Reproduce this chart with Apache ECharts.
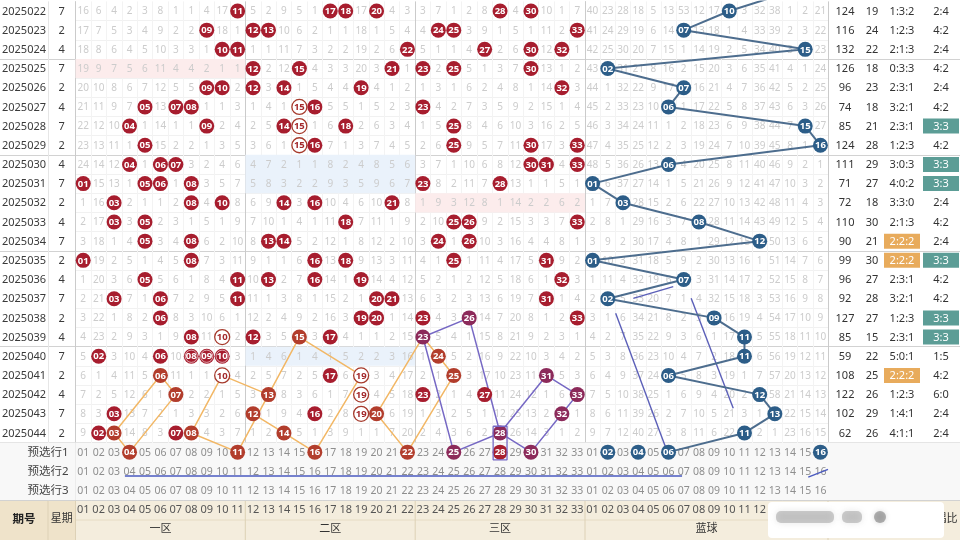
<!DOCTYPE html>
<html>
<head>
<meta charset="utf-8">
<script src="https://cdn.jsdelivr.net/npm/echarts@6.0.0/dist/echarts.min.js"></script>
<style>
html,body{margin:0;padding:0;background:#fff;}
#chart{width:960px;height:540px;}
</style>
</head>
<body>
<div id="chart"></div>
<script>
// ================= DATA =================
const periods = ['2025022','2025023','2025024','2025025','2025026','2025027','2025028','2025029','2025030','2025031','2025032','2025033','2025034','2025035','2025036','2025037','2025038','2025039','2025040','2025041','2025042','2025043','2025044'];
const weekdays = [7,2,4,7,2,4,7,2,4,7,2,4,7,2,4,7,2,4,7,2,4,7,2];
const redDraws = [
  [11,17,18,20,28,30],[9,12,13,24,25,33],[10,11,22,27,30,32],[12,15,21,23,25,30],[9,10,12,14,19,32],
  [5,7,8,15,16,23],[4,9,14,15,18,25],[5,15,16,25,30,33],[4,6,7,30,31,33],[1,5,6,8,23,28],
  [3,8,10,14,16,21],[3,5,18,25,26,33],[5,8,13,14,24,26],[1,8,16,18,25,31],[5,11,13,16,19,32],
  [3,6,11,20,21,31],[6,19,20,23,26,33],[8,10,12,15,17,23],[2,6,8,9,10,24],[6,10,17,19,25,31],
  [7,13,19,23,27,33],[3,12,16,19,20,32],[2,3,7,8,14,28]
];
const blueDraws = [10,7,15,2,7,6,15,16,6,1,3,8,12,1,7,2,9,11,11,6,12,13,11];
const blueDrawBefore = 14; // 2025021, just above the top edge
const sums = [124,116,132,126,96,74,85,124,111,71,72,110,90,99,96,92,127,85,59,108,122,102,62];
const spans = [19,24,22,18,23,18,21,28,29,27,18,30,21,30,27,28,27,15,22,25,26,29,26];
const zoneRatios = ['1:3:2','1:2:3','2:1:3','0:3:3','2:3:1','3:2:1','2:3:1','1:2:3','3:0:3','4:0:2','3:3:0','2:1:3','2:2:2','2:2:2','2:3:1','3:2:1','1:2:3','2:3:1','5:0:1','2:2:2','1:2:3','1:4:1','4:1:1'];
const oddEven = ['2:4','4:2','2:4','4:2','2:4','4:2','3:3','4:2','3:3','3:3','2:4','4:2','2:4','3:3','4:2','4:2','3:3','3:3','1:5','4:2','6:0','2:4','2:4'];

// omission values per red column 01..33 (0 = drawn in that period)
const redMiss = [
  [16,17,18,19,20,21,22,23,24,0,1,2,3,0,1,2,3,4,5,6,7,8,9],
  [6,7,8,9,10,11,12,13,14,15,16,17,18,19,20,21,22,23,0,1,2,3,0],
  [4,5,6,7,8,9,10,11,12,13,0,0,1,2,3,0,1,2,3,4,5,0,0],
  [2,3,4,5,6,7,0,1,0,1,2,3,4,5,6,7,8,9,10,11,12,13,14],
  [3,4,5,6,7,0,1,0,1,0,1,0,0,1,0,1,2,3,4,5,6,7,8],
  [8,9,10,11,12,13,14,15,0,0,1,2,3,4,5,0,0,1,0,0,1,2,3],
  [1,2,3,4,5,0,1,2,0,1,2,3,4,5,6,7,8,9,10,11,0,1,0],
  [1,2,3,4,5,0,1,2,3,0,0,1,0,0,1,2,3,0,0,1,2,3,0],
  [4,0,1,2,0,1,0,1,2,3,4,5,6,7,8,9,10,11,0,1,2,3,4],
  [17,18,0,1,0,1,2,3,4,5,0,1,2,3,4,5,6,0,0,0,1,2,3],
  [0,1,0,1,2,3,4,5,6,7,8,9,10,11,0,0,1,2,3,4,5,6,7],
  [5,0,1,0,0,1,2,3,4,5,6,7,8,9,10,11,12,0,1,2,3,0,1],
  [2,0,1,2,3,4,5,6,7,8,9,10,0,1,0,1,2,3,4,5,0,1,2],
  [9,10,11,12,0,1,0,1,2,3,0,1,0,1,2,3,4,5,6,7,8,9,0],
  [5,6,7,0,1,0,0,0,1,2,3,4,5,6,7,8,9,0,1,2,3,4,5],
  [1,2,3,4,5,0,1,0,1,2,0,1,2,0,0,1,2,3,4,5,6,0,1],
  [0,1,2,3,4,5,6,7,8,9,10,11,12,13,14,15,16,0,1,0,1,2,3],
  [0,1,2,3,4,5,0,1,2,3,4,0,1,0,1,2,3,4,5,6,7,8,9],
  [17,18,19,20,0,1,2,3,4,5,6,7,8,9,0,1,0,1,2,0,0,0,1],
  [0,1,2,3,4,5,6,7,8,9,10,11,12,13,14,0,0,1,2,3,4,0,1],
  [4,5,6,0,1,2,3,4,5,6,0,1,2,3,4,0,1,2,3,4,5,6,7],
  [3,4,0,1,2,3,4,5,6,7,8,9,10,11,12,13,14,15,16,17,18,19,20],
  [3,4,5,0,1,0,1,2,3,0,1,2,3,4,5,6,0,0,1,2,0,1,2],
  [7,0,1,2,3,4,5,6,7,8,9,10,0,1,2,3,4,5,0,1,2,3,4],
  [1,0,1,0,1,2,0,0,1,2,3,0,1,0,1,2,3,4,5,0,1,2,3],
  [2,3,4,5,6,7,8,9,10,11,12,0,0,1,2,3,0,1,2,3,4,5,6],
  [8,9,0,1,2,3,4,5,6,7,8,9,10,11,12,13,14,15,16,17,0,1,2],
  [0,1,2,3,4,5,6,7,8,0,1,2,3,4,5,6,7,8,9,10,11,12,0],
  [4,5,6,7,8,9,10,11,12,13,14,15,16,17,18,19,20,21,22,23,24,25,26],
  [0,1,0,0,1,2,3,0,0,1,2,3,4,5,6,7,8,9,10,11,12,13,14],
  [10,11,12,13,14,15,16,17,0,1,2,3,4,0,1,0,1,2,3,0,1,2,3],
  [1,2,0,1,0,1,2,3,4,5,6,7,8,9,0,1,2,3,4,5,6,0,1],
  [7,0,1,2,3,4,5,0,0,1,2,0,1,2,3,4,0,1,2,3,0,1,2]
];
// omission values per blue column 01..16
const blueMiss = [
  [40,41,42,43,44,45,46,47,48,0,1,2,3,0,1,2,3,4,5,6,7,8,9],
  [23,24,25,0,1,2,3,4,5,6,7,8,9,10,11,0,1,2,3,4,5,6,7],
  [28,29,30,31,32,33,34,35,36,37,0,1,2,3,4,5,6,7,8,9,10,11,12],
  [18,19,20,21,22,23,24,25,26,27,28,29,30,31,32,33,34,35,36,37,38,39,40],
  [5,6,7,8,9,10,11,12,13,14,15,16,17,18,19,20,21,22,23,24,25,26,27],
  [13,14,15,16,17,0,1,2,0,1,2,3,4,5,6,7,8,9,10,0,1,2,3],
  [53,0,1,2,0,1,2,3,4,5,6,7,8,9,0,1,2,3,4,5,6,7,8],
  [12,13,14,15,16,17,18,19,20,21,22,0,1,2,3,4,5,6,7,8,9,10,11],
  [17,18,19,20,21,22,23,24,25,26,27,28,29,30,31,32,0,1,2,3,4,5,6],
  [0,1,2,3,4,5,6,7,8,9,10,11,12,13,14,15,16,17,18,19,20,21,22],
  [3,4,5,6,7,8,9,10,11,12,13,14,15,16,17,18,19,0,0,1,2,3,0],
  [32,33,34,35,36,37,38,39,40,41,42,43,0,1,2,3,4,5,6,7,0,1,2],
  [38,39,40,41,42,43,44,45,46,47,48,49,50,51,52,53,54,55,56,57,58,0,1],
  [1,2,3,4,5,6,7,8,9,10,11,12,13,14,15,16,17,18,19,20,21,22,23],
  [2,3,0,1,2,3,0,1,2,3,4,5,6,7,8,9,10,11,12,13,14,15,16],
  [21,22,23,24,25,26,27,0,1,2,3,4,5,6,7,8,9,10,11,12,13,14,15]
];
const redHeader = ['01','02','03','04','05','06','07','08','09','10','11','12','13','14','15','16','17','18','19','20','21','22','23','24','25','26','27','28','29','30','31','32','33'];
const blueHeader = ['01','02','03','04','05','06','07','08','09','10','11','12','13','14','15','16'];
const redZones = ['一区','二区','三区'];
const preRows = ['预选行1','预选行2','预选行3'];
const preRedPicks = [4,11,16,22,25,28,30];
const preBluePicks = [2,4,6,16];
const blueTrendEnd = 6;
// [periodIndex, zoneIndex] of zones with no red number (shaded)
const emptyZones = [[3,0],[8,1],[9,1],[10,2],[18,1]];
// special ball marks [periodIndex, number]
const hollowBalls = [[5,15],[6,15],[7,15],[17,10],[19,10],[19,19],[20,19],[21,19]];
const ringBalls = [[18,8],[18,9],[18,10]];
// hand-drawn connectors [number, rowIndex] (rows 23.. = 预选行)
const orangePaths = [
  [[6,19],[7,20],[4,23]],
  [[6,19],[3,22],[4,23]],
  [[10,19],[8,22],[11,23]],
  [[10,19],[13,20],[11,23]],
  [[13,20],[15,17],[19,19],[16,23]],
  [[12,21],[14,22],[16,23]],
  [[22,23],[20,21],[23,17],[24,18],[25,19],[22,23]]
];
const purplePaths = [
  [[26,16],[23,17],[25,23],[28,22],[31,19],[33,20],[32,21],[30,23],[28,22]],
  [[26,16],[28,22]]
];
// free strokes in axis units (column, row)
const purpleBox = [[27.05,22.15],[27.95,22.15],[27.95,23.9],[27.05,23.9],[27.05,22.15]];
const blueStrokes = [
  [[2.02,16.26],[5.33,23.3]],
  [[6.99,15.48],[9.76,21.21]],
  [[3.18,15.48],[5.81,14.87]]
];
const pre2StrokeRed = [[3.2,24.74],[33,24.74]];
const pre2StrokeBlue = [[0,24.74],[6.39,24.74]];
const pre2StrokeBlue2 = [[14.7,24.8],[16,24.4]];

// ================= LAYOUT / STYLE =================
const FONT = '"Noto Sans","Noto Sans CJK SC",Roboto,sans-serif';
const ROWS = 26, TOP = 1.4, GH = 498.7;
const PRE0 = periods.length;
const RED = '#a71d2e', ORANGE_BALL = '#b23d2c', PURPLE_BALL = '#8c2a5a', BLUE = '#2c5d88';
const pad = n => (n < 10 ? '0' : '') + n;

const groupLines = [3, 8, 13, 18, 23, 26];
const yFull = Array.from({length: ROWS + 1}, (_, k) => k === 0 ? 'rgba(0,0,0,0)' : groupLines.includes(k) ? '#d2d2d2' : '#f1f1f1');
const ySparse = Array.from({length: ROWS + 1}, (_, k) => groupLines.includes(k) ? '#d2d2d2' : (k > 23 ? '#f1f1f1' : 'rgba(0,0,0,0)'));
function xCols(n, darkIdx, dark, light) {
  return Array.from({length: n + 1}, (_, k) => darkIdx.includes(k) ? dark : light);
}
const T = 'rgba(0,0,0,0)';
const gridsDef = [
  {key: 'period', left: 0, width: 48, n: 1, xc: [T, '#e6e6e6'], yc: ySparse},
  {key: 'week', left: 48, width: 27.5, n: 1, xc: [T, '#d0d0d0'], yc: ySparse},
  {key: 'red', left: 75.5, width: 509.5, n: 33, xc: xCols(33, [0, 11, 22, 33], '#cbcbcb', '#f3f3f3'), yc: yFull},
  {key: 'blue', left: 585, width: 243, n: 16, xc: xCols(16, [0, 16], '#cbcbcb', '#f3f3f3'), yc: yFull},
  {key: 'sum', left: 828, width: 34, n: 1, xc: [T, T], yc: ySparse},
  {key: 'span', left: 862, width: 20, n: 1, xc: [T, T], yc: ySparse},
  {key: 'ratio', left: 882, width: 40, n: 1, xc: [T, T], yc: ySparse},
  {key: 'oe', left: 922, width: 38, n: 1, xc: [T, T], yc: ySparse}
];
const G = {};
const grids = [], xAxes = [], yAxes = [];
gridsDef.forEach((gd, i) => {
  G[gd.key] = i;
  grids.push({left: gd.left, top: TOP, width: gd.width, height: GH, show: false, outerBoundsMode: 'none', containLabel: false});
  xAxes.push({type: 'value', gridIndex: i, min: 0, max: gd.n, interval: 1, position: 'top',
    axisLine: {show: false}, axisTick: {show: false}, axisLabel: {show: false},
    splitLine: {show: true, showMinLine: true, showMaxLine: true, lineStyle: {color: gd.xc, width: 1}}});
  yAxes.push({type: 'value', gridIndex: i, min: 0, max: ROWS, interval: 1, inverse: true,
    axisLine: {show: false}, axisTick: {show: false}, axisLabel: {show: false},
    splitLine: {show: true, showMinLine: true, showMaxLine: true, lineStyle: {color: gd.yc, width: 1}}});
});
function headerAxis(key, labels, offset, style) {
  xAxes.push({type: 'category', gridIndex: G[key], position: 'bottom', offset: offset, data: labels, boundaryGap: true,
    axisLine: {show: false}, axisTick: {show: false}, splitLine: {show: false},
    axisLabel: Object.assign({show: true, interval: 0, margin: 4, color: '#555', fontSize: 11, fontFamily: FONT, hideOverlap: false}, style || {})});
}
headerAxis('period', ['期号'], 9.5, {color: '#222', fontWeight: 'bold', fontSize: 11.5});
headerAxis('week', ['星期'], 9.5, {color: '#333'});
headerAxis('red', redHeader, 0, {color: '#555'});
headerAxis('red', redZones, 19.5, {color: '#333'});
headerAxis('blue', blueHeader, 0, {color: '#555'});
headerAxis('blue', ['蓝球'], 19.5, {color: '#333'});
headerAxis('sum', ['和值'], 9.5, {color: '#333'});
headerAxis('span', ['跨度'], 9.5, {color: '#333'});
headerAxis('ratio', ['区间比'], 9.5, {color: '#333'});
headerAxis('oe', ['奇偶比'], 9.5, {color: '#333'});

// ================= SERIES HELPERS =================
function textLayer(key, items, style, z) {
  const g = G[key];
  return {type: 'custom', xAxisIndex: g, yAxisIndex: g, silent: true, z: z || 3, animation: false,
    encode: {x: 0, y: 1}, dimensions: ['x', 'y'], data: items.map(it => [it.x, it.y]),
    renderItem(params, api) {
      const it = items[params.dataIndex];
      const p = api.coord([api.value(0), api.value(1)]);
      return {type: 'text', x: p[0], y: p[1] + 0.5,
        style: Object.assign({text: String(it.t), align: 'center', verticalAlign: 'middle'}, style, it.s || {})};
    }};
}
function ballLayer(key, items, z) {
  const g = G[key];
  return {type: 'custom', xAxisIndex: g, yAxisIndex: g, silent: true, z: z || 6, animation: false,
    encode: {x: 0, y: 1}, dimensions: ['x', 'y'], data: items.map(b => [b.x, b.y]),
    renderItem(params, api) {
      const b = items[params.dataIndex];
      const p = api.coord([api.value(0), api.value(1)]);
      const ch = [{type: 'circle', shape: {cx: p[0], cy: p[1], r: 7.5},
        style: {fill: b.fill, stroke: b.stroke || null, lineWidth: b.lw || 0}}];
      if (b.ring) ch.push({type: 'circle', shape: {cx: p[0], cy: p[1], r: 6.1}, style: {fill: null, stroke: 'rgba(255,255,255,0.75)', lineWidth: 0.8}});
      ch.push({type: 'text', x: p[0], y: p[1] + 0.5, style: {text: b.t, fill: b.color || '#fff',
        font: 'bold 9.5px ' + FONT, align: 'center', verticalAlign: 'middle'}});
      return {type: 'group', children: ch};
    }};
}
function rectLayer(key, items, z) {
  const g = G[key];
  return {type: 'custom', xAxisIndex: g, yAxisIndex: g, silent: true, z: z || 1, animation: false,
    encode: {x: 0, y: 1}, dimensions: ['x', 'y', 'x2', 'y2'], data: items.map(r => [r.x1, r.y1, r.x2, r.y2]),
    renderItem(params, api) {
      const r = items[params.dataIndex];
      const p0 = api.coord([api.value(0), api.value(1)]);
      const p1 = api.coord([api.value(2), api.value(3)]);
      return {type: 'rect', shape: {x: p0[0], y: p0[1], width: p1[0] - p0[0], height: p1[1] - p0[1]}, style: {fill: r.fill}};
    }};
}
function boxLayer(key, items, z) {
  const g = G[key];
  return {type: 'custom', xAxisIndex: g, yAxisIndex: g, silent: true, z: z || 2, animation: false,
    encode: {x: 0, y: 1}, dimensions: ['x', 'y'], data: items.map(b => [b.x, b.y]),
    renderItem(params, api) {
      const b = items[params.dataIndex];
      const p = api.coord([api.value(0), api.value(1)]);
      return {type: 'rect', shape: {x: p[0] - 18, y: p[1] - 7.5, width: 36, height: 15}, style: {fill: b.fill}};
    }};
}
function lineLayer(key, pts, color, width, z) {
  const g = G[key];
  return {type: 'line', xAxisIndex: g, yAxisIndex: g, data: pts, symbol: 'none', silent: true, clip: true,
    z: z || 5, animation: false, lineStyle: {color: color, width: width}};
}

// ================= BUILD =================
const series = [];
const keyOf = (r, n) => r + '-' + n;
const orangeSet = new Set(), purpleSet = new Set();
orangePaths.forEach(p => p.forEach(([n, r]) => orangeSet.add(keyOf(r, n))));
purplePaths.forEach(p => p.forEach(([n, r]) => purpleSet.add(keyOf(r, n))));
const hollowSet = new Set(hollowBalls.map(([r, n]) => keyOf(r, n)));
const ringSet = new Set(ringBalls.map(([r, n]) => keyOf(r, n)));

// backgrounds: 预选 rows + empty-zone shading
gridsDef.forEach(gd => series.push(rectLayer(gd.key, [{x1: 0, y1: PRE0, x2: gd.n, y2: ROWS, fill: '#f8f8f8'}], 0)));
series.push(rectLayer('red', emptyZones.map(([r, z]) => ({x1: z * 11, y1: r, x2: z * 11 + 11, y2: r + 1,
  fill: z === 1 ? '#eaf2fb' : '#fcecec'})), 1));

// left columns
series.push(textLayer('period', periods.map((p, i) => ({x: 0.5, y: i + 0.5, t: p})), {fill: '#3a3a3a', font: '11px ' + FONT}));
series.push(textLayer('week', weekdays.map((w, i) => ({x: 0.5, y: i + 0.5, t: w})), {fill: '#3a3a3a', font: '11px ' + FONT}));
series.push(textLayer('period', preRows.map((p, k) => ({x: 1.0, y: PRE0 + k + 0.5, t: p})), {fill: '#444', font: '11.5px ' + FONT}));

// omission numbers
const redMissItems = [], blueMissItems = [];
redMiss.forEach((col, c) => col.forEach((v, i) => { if (v > 0) redMissItems.push({x: c + 0.5, y: i + 0.5, t: v}); }));
blueMiss.forEach((col, c) => col.forEach((v, i) => { if (v > 0) blueMissItems.push({x: c + 0.5, y: i + 0.5, t: v}); }));
series.push(textLayer('red', redMissItems, {fill: '#cccccc', font: '10px ' + FONT}));
series.push(textLayer('blue', blueMissItems, {fill: '#cccccc', font: '10px ' + FONT}));

// 预选 rows numbers
const preRedText = [], preBlueText = [];
for (let k = 0; k < 3; k++) {
  redHeader.forEach((h, c) => { if (!(k === 0 && preRedPicks.includes(c + 1))) preRedText.push({x: c + 0.5, y: PRE0 + k + 0.5, t: h}); });
  blueHeader.forEach((h, c) => { if (!(k === 0 && preBluePicks.includes(c + 1))) preBlueText.push({x: c + 0.5, y: PRE0 + k + 0.5, t: h}); });
}
series.push(textLayer('red', preRedText, {fill: '#8e8e8e', font: '10.5px ' + FONT}));
series.push(textLayer('blue', preBlueText, {fill: '#8e8e8e', font: '10.5px ' + FONT}));

// right columns
series.push(boxLayer('ratio', zoneRatios.map((v, i) => v === '2:2:2' ? {x: 0.5, y: i + 0.5, fill: '#e8ab5c'} : null).filter(Boolean)));
series.push(boxLayer('oe', oddEven.map((v, i) => v === '3:3' ? {x: 0.5, y: i + 0.5, fill: '#5c9d96'} : null).filter(Boolean)));
series.push(textLayer('sum', sums.map((v, i) => ({x: 0.5, y: i + 0.5, t: v})), {fill: '#333', font: '11px ' + FONT}));
series.push(textLayer('span', spans.map((v, i) => ({x: 0.5, y: i + 0.5, t: v})), {fill: '#333', font: '11px ' + FONT}));
series.push(textLayer('ratio', zoneRatios.map((v, i) => ({x: 0.5, y: i + 0.5, t: v, s: v === '2:2:2' ? {fill: '#fff'} : {}})), {fill: '#333', font: '11px ' + FONT}, 4));
series.push(textLayer('oe', oddEven.map((v, i) => ({x: 0.5, y: i + 0.5, t: v, s: v === '3:3' ? {fill: '#fff'} : {}})), {fill: '#333', font: '11px ' + FONT}, 4));

// lines
const toCell = ([n, r]) => [n - 0.5, r + 0.5];
orangePaths.forEach(p => series.push(lineLayer('red', p.map(toCell), '#f2b765', 1.5, 5)));
purplePaths.forEach(p => series.push(lineLayer('red', p.map(toCell), '#7668c4', 1.5, 5)));
series.push(lineLayer('red', purpleBox, '#7668c4', 1.3, 7));
series.push(lineLayer('red', pre2StrokeRed, '#4a5ac0', 1.5, 5));
series.push(lineLayer('blue', pre2StrokeBlue, '#4a5ac0', 1.5, 5));
series.push(lineLayer('blue', pre2StrokeBlue2, '#4a5ac0', 1.5, 5));
blueStrokes.forEach(s => series.push(lineLayer('blue', s, '#5b5fb8', 1.4, 5)));
const blueTrend = [[blueDrawBefore - 0.5, -0.5]].concat(blueDraws.map((b, i) => [b - 0.5, i + 0.5])).concat([[blueTrendEnd - 0.5, PRE0 + 0.5]]);
series.push(lineLayer('blue', blueTrend, '#4d6d8e', 2, 5));

// balls
const redBalls = [];
function redBall(r, n) {
  const k = keyOf(r, n);
  const b = {x: n - 0.5, y: r + 0.5, t: pad(n), fill: RED};
  if (orangeSet.has(k)) b.fill = ORANGE_BALL;
  if (purpleSet.has(k)) b.fill = PURPLE_BALL;
  if (hollowSet.has(k)) { b.fill = '#fff'; b.stroke = '#a63a2c'; b.lw = 1.3; b.color = '#a3282b'; }
  if (ringSet.has(k)) b.ring = true;
  return b;
}
redDraws.forEach((row, i) => row.forEach(n => redBalls.push(redBall(i, n))));
preRedPicks.forEach(n => redBalls.push(redBall(PRE0, n)));
series.push(ballLayer('red', redBalls, 6));
const blueBalls = blueDraws.map((b, i) => ({x: b - 0.5, y: i + 0.5, t: pad(b), fill: BLUE}))
  .concat(preBluePicks.map(b => ({x: b - 0.5, y: PRE0 + 0.5, t: pad(b), fill: BLUE})));
series.push(ballLayer('blue', blueBalls, 6));

// ================= DECORATION =================
const sepX = [48, 75.5, 245.3, 415.2, 585, 828];
const graphic = [
  {type: 'rect', z: -10, shape: {x: 0, y: 500, width: 960, height: 40}, style: {fill: '#f4eddd'}},
  {type: 'rect', z: -9, shape: {x: 0, y: 500, width: 75.5, height: 40}, style: {fill: '#efe3ca'}},
  {type: 'line', z: -5, shape: {x1: 75.5, y1: 520, x2: 828, y2: 520}, style: {stroke: '#e6dcc4', lineWidth: 1}}
].concat(sepX.map(x => ({type: 'line', z: -5, shape: {x1: x, y1: 500, x2: x, y2: 540}, style: {stroke: '#ddd1b6', lineWidth: 1}})))
 .concat([
  {type: 'rect', z: 100, shape: {x: 768, y: 502, width: 176, height: 36, r: 4}, style: {fill: '#ffffff'}},
  {type: 'rect', z: 101, shape: {x: 776, y: 511, width: 58, height: 12, r: 5}, style: {fill: 'rgba(120,120,120,0.35)', shadowBlur: 6, shadowColor: 'rgba(120,120,120,0.5)'}},
  {type: 'rect', z: 101, shape: {x: 842, y: 511, width: 20, height: 12, r: 5}, style: {fill: 'rgba(120,120,120,0.35)', shadowBlur: 6, shadowColor: 'rgba(120,120,120,0.5)'}},
  {type: 'circle', z: 101, shape: {cx: 880, cy: 517, r: 6}, style: {fill: 'rgba(90,90,90,0.45)', shadowBlur: 5, shadowColor: 'rgba(90,90,90,0.5)'}}
]);

const chart = echarts.init(document.getElementById('chart'), null, {renderer: 'canvas', width: 960, height: 540});
chart.setOption({
  animation: false,
  backgroundColor: '#ffffff',
  textStyle: {fontFamily: FONT},
  grid: grids,
  xAxis: xAxes,
  yAxis: yAxes,
  graphic: graphic,
  series: series
});
</script>
</body>
</html>
